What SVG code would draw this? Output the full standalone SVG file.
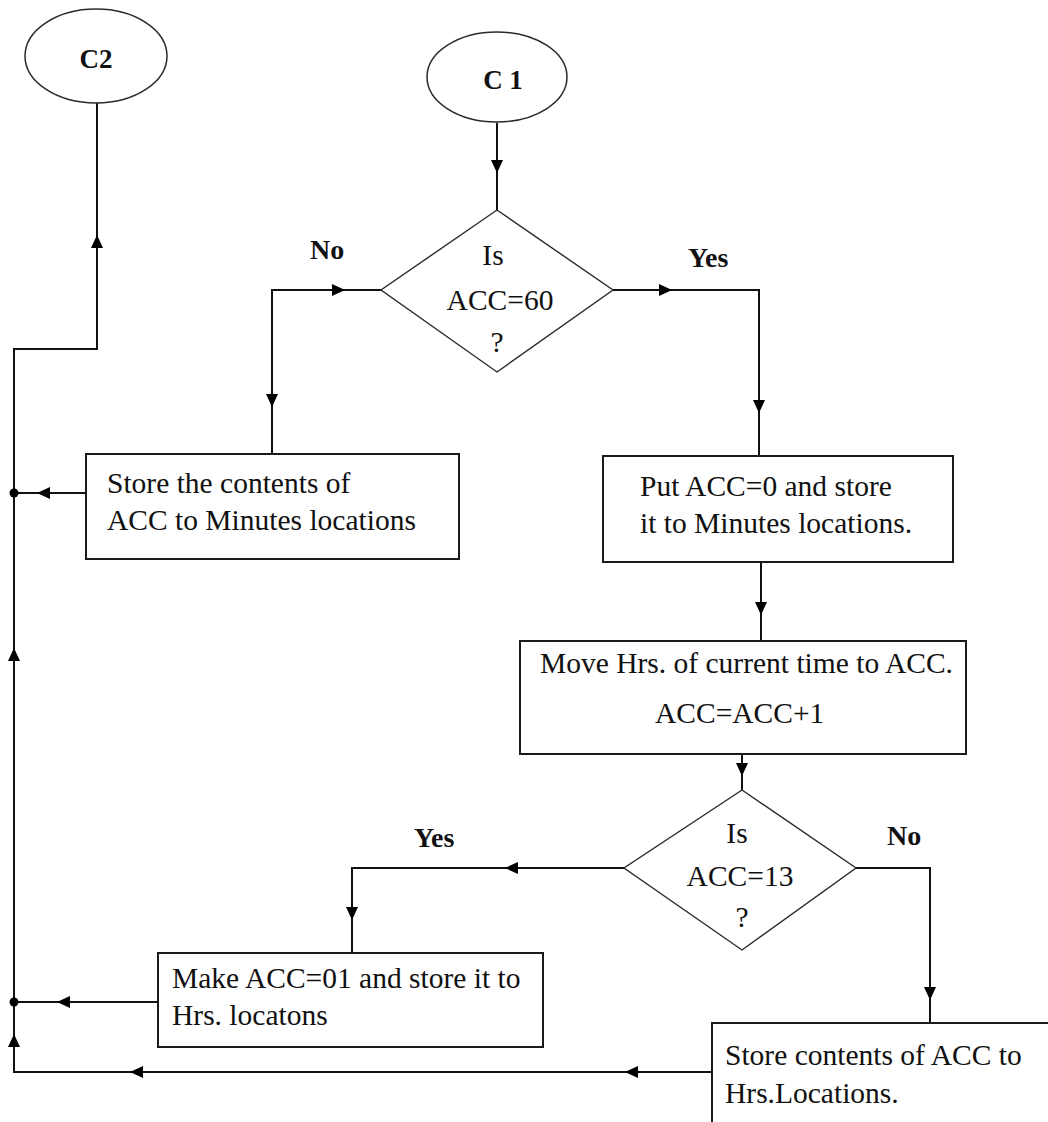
<svg xmlns="http://www.w3.org/2000/svg" xmlns:xlink="http://www.w3.org/1999/xlink" width="1048" height="1122" viewBox="0 0 1048 1122">
<style>
.bg{fill:#ffffff}
.box{fill:#ffffff;stroke:#1a1a1a;stroke-width:2}
.dia{fill:#ffffff;stroke:#2a2a2a;stroke-width:1.4}
.ell{fill:#ffffff;stroke:#2a2a2a;stroke-width:1.5}
.ln{fill:none;stroke:#111111;stroke-width:2}
.t{font-family:"Liberation Serif","Times New Roman",serif;font-size:29.5px;fill:#111111}
.b{font-family:"Liberation Serif","Times New Roman",serif;font-size:28px;font-weight:bold;fill:#111111}
.m{text-anchor:middle}
.ah{fill:#000000}
</style>
<defs>
<path id="ah" d="M0,0 L-13,-6 L-13,6 Z"/>
</defs>
<rect class="bg" x="0" y="0" width="1048" height="1122"/>

<g id="connectors">
<path class="ln" d="M497,123 V210"/>
<path class="ln" d="M381,290 H272 V454"/>
<path class="ln" d="M613,290 H759 V456"/>
<path class="ln" d="M86,493 H14"/>
<path class="ln" d="M761,562 V641"/>
<path class="ln" d="M742,754 V790"/>
<path class="ln" d="M624,868 H352 V953"/>
<path class="ln" d="M856,868 H930 V1023"/>
<path class="ln" d="M158,1002 H14"/>
<path class="ln" d="M712,1072 H14 V349 H97 V103"/>
<circle cx="14" cy="493" r="4.5" fill="#000"/>
<circle cx="14" cy="1002" r="4.5" fill="#000"/>
<use href="#ah" class="ah" transform="translate(497,173) rotate(90)"/>
<use href="#ah" class="ah" transform="translate(345,290)"/>
<use href="#ah" class="ah" transform="translate(272,407) rotate(90)"/>
<use href="#ah" class="ah" transform="translate(672,290)"/>
<use href="#ah" class="ah" transform="translate(759,413) rotate(90)"/>
<use href="#ah" class="ah" transform="translate(37,493) rotate(180)"/>
<use href="#ah" class="ah" transform="translate(761,615) rotate(90)"/>
<use href="#ah" class="ah" transform="translate(742,776) rotate(90)"/>
<use href="#ah" class="ah" transform="translate(505,868) rotate(180)"/>
<use href="#ah" class="ah" transform="translate(352,920) rotate(90)"/>
<use href="#ah" class="ah" transform="translate(930,1000) rotate(90)"/>
<use href="#ah" class="ah" transform="translate(57,1002) rotate(180)"/>
<use href="#ah" class="ah" transform="translate(625,1072) rotate(180)"/>
<use href="#ah" class="ah" transform="translate(130,1072) rotate(180)"/>
<use href="#ah" class="ah" transform="translate(14,1034) rotate(-90)"/>
<use href="#ah" class="ah" transform="translate(14,648) rotate(-90)"/>
<use href="#ah" class="ah" transform="translate(97,235) rotate(-90)"/>
<text class="b" x="310" y="259">No</text>
<text class="b" x="688" y="267">Yes</text>
<text class="b" x="414" y="847">Yes</text>
<text class="b" x="887" y="845">No</text>
</g>

<g id="c2">
<ellipse class="ell" cx="96" cy="56" rx="71" ry="47"/>
<text class="b m" x="96" y="68" style="font-size:27px">C2</text>
</g>

<g id="c1">
<ellipse class="ell" cx="497" cy="77" rx="70" ry="45"/>
<text class="b m" x="503" y="89" style="font-size:27px">C 1</text>
</g>

<g id="decision1">
<polygon class="dia" points="497,210 613,290 497,372 381,290"/>
<text class="t m" x="493" y="265">Is</text>
<text class="t m" x="500" y="310">ACC=60</text>
<text class="t m" x="497" y="352">?</text>
</g>

<g id="store-minutes">
<rect class="box" x="86" y="454" width="373" height="105"/>
<text class="t" x="107" y="493">Store the contents of</text>
<text class="t" x="107" y="530">ACC to Minutes locations</text>
</g>

<g id="put-acc0">
<rect class="box" x="603" y="456" width="350" height="106"/>
<text class="t" x="640" y="496">Put ACC=0 and store</text>
<text class="t" x="640" y="533">it to Minutes locations.</text>
</g>

<g id="move-hrs">
<rect class="box" x="520" y="641" width="446" height="113"/>
<text class="t" x="540" y="673">Move Hrs. of current time to ACC.</text>
<text class="t" x="655" y="723">ACC=ACC+1</text>
</g>

<g id="decision2">
<polygon class="dia" points="742,790 856,868 742,950 624,868"/>
<text class="t m" x="737" y="843">Is</text>
<text class="t m" x="740" y="886">ACC=13</text>
<text class="t m" x="742" y="927">?</text>
</g>

<g id="make-acc01">
<rect class="box" x="158" y="953" width="385" height="94"/>
<text class="t" x="172" y="988">Make ACC=01 and store it to</text>
<text class="t" x="172" y="1025">Hrs. locatons</text>
</g>

<g id="store-hrs">
<rect class="box" x="712" y="1023" width="400" height="200"/>
<text class="t" x="725" y="1065">Store contents of ACC to</text>
<text class="t" x="725" y="1103">Hrs.Locations.</text>
</g>
</svg>
